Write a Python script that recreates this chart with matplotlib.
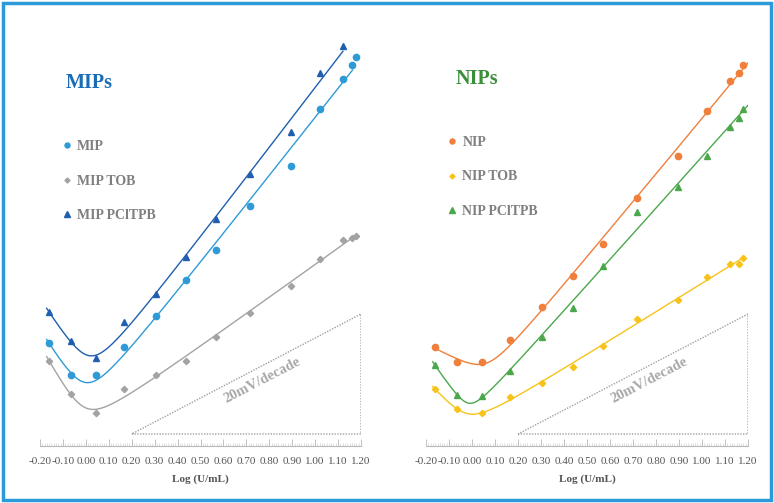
import numpy as np
import matplotlib
matplotlib.use('Agg')
from matplotlib import pyplot as plt
from matplotlib.patches import Rectangle
from matplotlib.ticker import MultipleLocator, FormatStrFormatter

plt.rcParams['font.family'] = ['Liberation Serif', 'DejaVu Serif']

# log of concentration, shared by every series
log_c = [-0.161, -0.065, 0.044, 0.166, 0.306, 0.437, 0.568, 0.716, 0.895, 1.021, 1.121, 1.161, 1.178]

# potentials (mV, relative)
mip = [17.2, 11.8, 11.8, 16.5, 21.7, 27.7, 32.7, 40.0, 46.7, 56.2, 61.2, 63.5, 64.8]
mip_tob = [14.2, 8.7, 5.5, 9.5, 11.8, 14.2, 18.2, 22.2, 26.7, 31.2, 34.3, 34.7, 35.0]
mip_pcltpb = [22.3, 17.5, 14.7, 20.7, 25.3, 31.5, 37.8, 45.3, 52.3, 62.2, 66.7]

nip = [16.5, 14.0, 14.0, 17.7, 23.2, 28.3, 33.7, 41.3, 48.3, 55.8, 60.8, 62.2, 63.5]
nip_tob = [9.5, 6.2, 5.5, 8.2, 10.5, 13.2, 16.7, 21.2, 24.3, 28.2, 30.3, 30.3, 31.3]
nip_pcltpb = [13.5, 8.5, 8.3, 12.5, 18.2, 23.0, 30.0, 39.0, 43.2, 48.3, 53.2, 54.7, 56.2]

# reference slope triangle
slope_x = [0.2, 1.2]
slope_y = [2.0, 22.0]


def fit_curve(x, y, x_end):
	# smoothed V: E = a + b*x + c*sqrt((x-x0)^2 + w^2), x0 and w on a grid
	x = np.asarray(x)
	y = np.asarray(y)
	best = None
	for x0 in np.arange(-0.12, 0.2, 0.005):
		for w in np.arange(0.03, 0.085, 0.005):
			A = np.column_stack([np.ones_like(x), x, np.sqrt((x - x0)**2 + w**2)])
			coef, _, _, _ = np.linalg.lstsq(A, y, rcond=None)
			err = np.sum((A @ coef - y)**2)
			if best is None or err < best[0]:
				best = (err, x0, w, coef)
	_, x0, w, coef = best
	xs = np.linspace(x[0] - 0.01, x_end, 300)
	ys = coef[0] + coef[1]*xs + coef[2]*np.sqrt((xs - x0)**2 + w**2)
	return xs, ys


def draw_panel(ax, title, title_color, series):
	for label, y, color, marker, ms, x_end in series:
		x = log_c[:len(y)]
		xs, ys = fit_curve(x, y, x_end)
		ax.plot(xs, ys, color=color, lw=1.0)
		ax.plot(x, y, linestyle='none', marker=marker, ms=ms, color=color, label=label)

	tx = slope_x + [slope_x[1], slope_x[0]]
	ty = [slope_y[0], slope_y[0], slope_y[1], slope_y[0]]
	ax.plot(tx, ty, color='#a0a0a0', lw=1.0, linestyle=(0, (1, 1)))
	ax.text(0.77, 11.0, '20mV/decade', rotation=27.5, ha='center', va='center',
		fontsize=10.5, fontweight='bold', color='#a8a8a8')

	ax.set_xlim(-0.2, 1.2)
	ax.set_ylim(0, 71)
	for s in ['top', 'left', 'right']:
		ax.spines[s].set_visible(False)
	ax.spines['bottom'].set_color('#b8b8b8')
	ax.spines['bottom'].set_linewidth(0.8)
	ax.set_yticks([])
	ax.xaxis.set_major_locator(MultipleLocator(0.1))
	ax.xaxis.set_minor_locator(MultipleLocator(0.01))
	ax.xaxis.set_major_formatter(FormatStrFormatter('%.2f'))
	ax.tick_params(axis='x', which='major', direction='in', length=5, width=0.6,
		color='#b8b8b8', labelsize=8, labelcolor='#555555', pad=8)
	ax.tick_params(axis='x', which='minor', direction='in', length=2, width=0.4, color='#c8c8c8')
	ax.set_xlabel('Log (U/mL)', fontsize=8, fontweight='bold', color='#555555', labelpad=6)

	ax.text(title[1], title[2], title[0], transform=ax.transAxes, fontsize=14.5,
		fontweight='bold', color=title_color, va='center', ha='left')


fig = plt.figure(figsize=(7.74, 5.03), dpi=100)
ax1 = fig.add_axes([40/774, 57/503, 321/774, 426/503])
ax2 = fig.add_axes([426/774, 57/503, 322/774, 426/503])

draw_panel(ax1, ('MIPs', 0.081, 0.852), '#1a6db5', [
	('MIP', mip, '#2e9bd6', 'o', 4.5, 1.163),
	('MIP TOB', mip_tob, '#a3a3a3', 'D', 3.2, 1.178),
	('MIP PClTPB', mip_pcltpb, '#1f5fae', '^', 5, 1.121),
])
draw_panel(ax2, ('NIPs', 0.093, 0.861), '#3b8f3b', [
	('NIP', nip, '#f07f3c', 'o', 4.5, 1.248),
	('NIP TOB', nip_tob, '#f7c31a', 'D', 3.2, 1.180),
	('NIP PClTPB', nip_pcltpb, '#4aa84a', '^', 5, 1.200),
])

for ax, anchor in [(ax1, (0.070, 0.718)), (ax2, (0.068, 0.728))]:
	leg = ax.legend(loc='upper left', bbox_to_anchor=anchor, frameon=False,
		handlelength=0.6, handletextpad=0.45, labelspacing=1.55, borderpad=0,
		borderaxespad=0, prop={'family': 'Liberation Serif', 'weight': 'bold', 'size': 10},
		labelcolor='#7f7f7f', markerscale=0.8)

fig.add_artist(Rectangle((0.004, 0.005), 0.992, 0.99, transform=fig.transFigure,
	fill=False, edgecolor='#2b9ad8', lw=2.5))

fig.savefig('out.png', dpi=100)
